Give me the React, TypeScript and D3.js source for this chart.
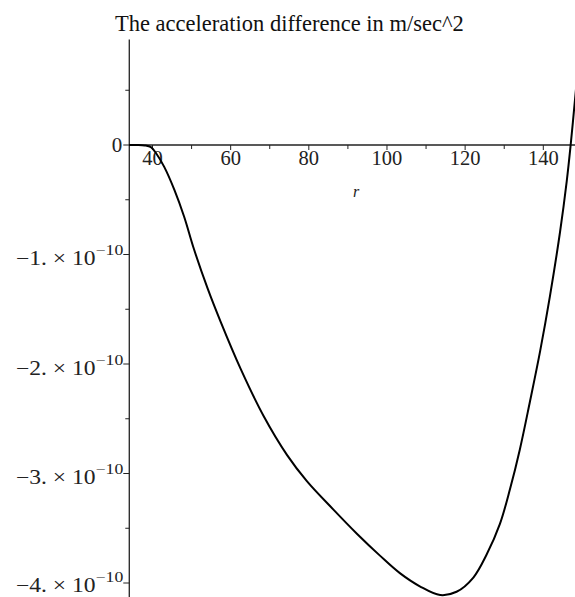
import React from "react";
import * as d3 from "d3";

// r values and acceleration difference (in units of 1e-10 m/sec^2)
const rValues = [34, 36, 38, 39.6, 41, 43, 45.6, 48.1, 50.6, 54.1, 57.5, 62.5, 68.5, 74.4, 79.5, 86.3, 92.3, 98.2, 103.3, 108.4, 113.6, 117.8, 122.1, 125.5, 128.9, 131.5, 134.0, 136.6, 139.2, 141.7, 144.3, 146.0, 147.0, 148.1, 149];
const accel = [0, 0, -0.004, -0.02, -0.08, -0.2, -0.41, -0.655, -0.95, -1.31, -1.62, -2.04, -2.48, -2.83, -3.07, -3.33, -3.55, -3.75, -3.91, -4.03, -4.11, -4.08, -3.95, -3.74, -3.46, -3.14, -2.78, -2.34, -1.88, -1.38, -0.79, -0.33, 0, 0.41, 0.75];

const xMajor = [40, 60, 80, 100, 120, 140];
const xMinor = [50, 70, 90, 110, 130];
const yMajor = [0, -1, -2, -3, -4];
const yMinor = [0.5, -0.5, -1.5, -2.5, -3.5];
const yLabels = ["0", "−1.", "−2.", "−3.", "−4."];

const title = "The acceleration difference in m/sec^2";

export default function App() {
  const width = 575;
  const height = 597;

  const x = d3.scaleLinear().domain([40, 140]).range([152.5, 543.3]);
  const y = d3.scaleLinear().domain([0, -4]).range([145, 583]);

  const x0 = x(34.06);
  const yTop = y(0.963);

  const line = d3
    .line<number>()
    .x((d, i) => x(rValues[i]))
    .y((d) => y(d))
    .curve(d3.curveCatmullRom.alpha(0.5));

  const font = "'Liberation Serif', 'Times New Roman', serif";

  return (
    <div style={{ position: "absolute", left: 0, top: 0 }}>
      <svg width={width} height={height} style={{ display: "block", background: "#fff" }} fontFamily={font}>
        <text x={115} y={31} fontSize={22.5} fill="#111">
          {title}
        </text>

        {/* axes */}
        <line x1={x0} x2={width} y1={y(0)} y2={y(0)} stroke="#222" strokeWidth={1.3} />
        <line x1={x0} x2={x0} y1={yTop} y2={height} stroke="#222" strokeWidth={1.3} />

        {xMajor.map((t) => (
          <g key={"xm" + t}>
            <line x1={x(t)} x2={x(t)} y1={y(0)} y2={y(0) + 5} stroke="#222" strokeWidth={1} />
            <text x={x(t)} y={165} fontSize={20.5} textAnchor="middle" fill="#222">
              {t}
            </text>
          </g>
        ))}
        {xMinor.map((t) => (
          <line key={"xn" + t} x1={x(t)} x2={x(t)} y1={y(0)} y2={y(0) + 4} stroke="#222" strokeWidth={1} />
        ))}
        <text x={353} y={197} fontSize={16} fontStyle="italic" fill="#222">
          r
        </text>

        {yMajor.map((t, i) => (
          <g key={"ym" + t}>
            <line x1={x0 - 6} x2={x0} y1={y(t)} y2={y(t)} stroke="#222" strokeWidth={1} />
            {t === 0 ? (
              <text x={x0 - 7} y={y(t) + 7} fontSize={21} textAnchor="end" fill="#222">
                {yLabels[i]}
              </text>
            ) : (
              <g transform={`translate(${x0 - 6},${y(t) + (t === -4 ? 9 : 10.5)}) scale(1.18,1)`}>
                <text x={0} y={0} fontSize={20} textAnchor="end" fill="#222">
                  <tspan>{yLabels[i] + " × 10"}</tspan>
                  <tspan dy={-10} fontSize={15}>
                    −10
                  </tspan>
                </text>
              </g>
            )}
          </g>
        ))}
        {yMinor.map((t) => (
          <line key={"yn" + t} x1={x0 - 4} x2={x0} y1={y(t)} y2={y(t)} stroke="#222" strokeWidth={1} />
        ))}

        <path d={line(accel) || ""} fill="none" stroke="#000" strokeWidth={2} />
      </svg>
    </div>
  );
}
